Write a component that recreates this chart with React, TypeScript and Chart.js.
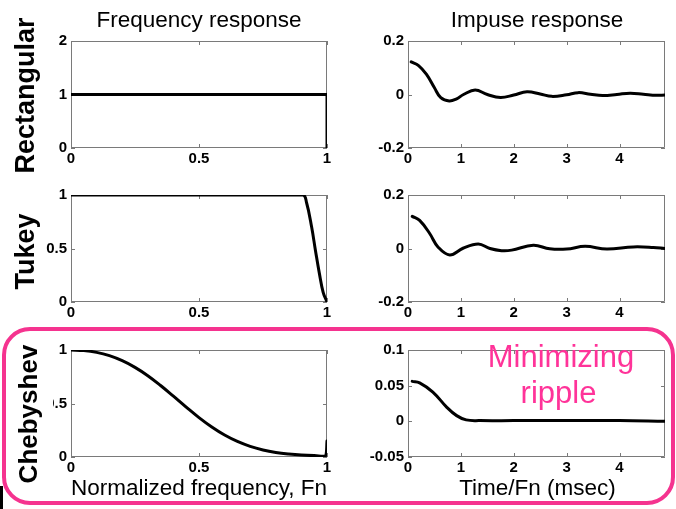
import React, { useEffect, useRef } from "react";
import { Chart, registerables } from "chart.js";

Chart.register(...registerables);

const FONT = '"Liberation Sans", Arial, Helvetica, sans-serif';

// ---- axis ticks ----
const freqTicks = [0, 0.5, 1];
const timeTicks = [0, 1, 2, 3, 4];
const freqMax = 1;
const timeMax = 4.86;

// ---- Rectangular window ----
const rectFreqX = [0, 1, 1];
const rectFreqY = [1, 1, 0];
const rectFreqYTicks = [0, 1, 2];

const rectImpX = [0.06, 0.2, 0.35, 0.5, 0.62, 0.78, 0.92, 1.05, 1.27, 1.5, 1.75, 2.0, 2.25, 2.5, 2.72, 3.0, 3.22, 3.45, 3.68, 3.95, 4.2, 4.45, 4.7, 4.86];
const rectImpY = [0.122, 0.108, 0.075, 0.025, -0.012, -0.024, -0.016, 0.0, 0.017, 0.0, -0.011, -0.002, 0.01, 0.002, -0.007, -0.001, 0.007, 0.001, -0.004, 0.0, 0.005, 0.001, -0.003, -0.002];
const impYTicks = [-0.2, 0, 0.2];

// ---- Tukey window ----
const tukeyFreqX = [0, 0.905, 0.92, 0.94, 0.955, 0.97, 0.985, 1];
const tukeyFreqY = [1, 1, 0.93, 0.7, 0.48, 0.27, 0.09, 0];
const unitYTicks = [0, 0.5, 1];

const tukeyImpX = [0.08, 0.22, 0.41, 0.57, 0.79, 1.04, 1.33, 1.55, 1.77, 1.96, 2.37, 2.68, 3.0, 3.35, 3.76, 4.26, 4.64, 4.86];
const tukeyImpY = [0.12, 0.105, 0.056, 0.005, -0.024, 0.001, 0.017, 0.0, -0.008, -0.006, 0.012, -0.001, -0.002, 0.008, -0.002, 0.006, 0.004, 0.0];

// ---- Chebyshev window ----
const chebFreqX = [0, 0.05, 0.1, 0.15, 0.2, 0.25, 0.3, 0.35, 0.4, 0.45, 0.5, 0.55, 0.6, 0.65, 0.7, 0.75, 0.8, 0.85, 0.9, 0.95, 0.995, 1];
const chebFreqY = [1, 0.995, 0.978, 0.947, 0.9, 0.838, 0.76, 0.668, 0.568, 0.466, 0.368, 0.28, 0.205, 0.145, 0.099, 0.066, 0.043, 0.028, 0.018, 0.013, 0.012, 0.15];

const chebImpX = [0.08, 0.22, 0.47, 0.73, 0.92, 1.1, 1.36, 2.0, 3.0, 4.0, 4.86];
const chebImpY = [0.056, 0.054, 0.041, 0.02, 0.008, 0.002, 0.001, 0.001, 0.001, 0.001, 0.0];
const chebImpYTicks = [-0.05, 0, 0.05, 0.1];

// ---- layout of the six axes boxes ----
const COL_LEFT = [71, 408];
const COL_WIDTH = [256, 257];
const ROW_TOP = [40, 194, 349];
const ROW_HEIGHT = 108;
const Y_AXIS_W = [35, 48];
const PAD_TOP = 12;
const PAD_RIGHT = 10;
const X_AXIS_H = 22;

type Panel = {
  xs: number[];
  ys: number[];
  xMax: number;
  xTicks: number[];
  yMin: number;
  yMax: number;
  yTicks: number[];
  smooth: boolean;
  row: number;
  col: number;
};

const panels: Panel[] = [
  { xs: rectFreqX, ys: rectFreqY, xMax: freqMax, xTicks: freqTicks, yMin: 0, yMax: 2, yTicks: rectFreqYTicks, smooth: false, row: 0, col: 0 },
  { xs: rectImpX, ys: rectImpY, xMax: timeMax, xTicks: timeTicks, yMin: -0.2, yMax: 0.2, yTicks: impYTicks, smooth: true, row: 0, col: 1 },
  { xs: tukeyFreqX, ys: tukeyFreqY, xMax: freqMax, xTicks: freqTicks, yMin: 0, yMax: 1, yTicks: unitYTicks, smooth: true, row: 1, col: 0 },
  { xs: tukeyImpX, ys: tukeyImpY, xMax: timeMax, xTicks: timeTicks, yMin: -0.2, yMax: 0.2, yTicks: impYTicks, smooth: true, row: 1, col: 1 },
  { xs: chebFreqX, ys: chebFreqY, xMax: freqMax, xTicks: freqTicks, yMin: 0, yMax: 1, yTicks: unitYTicks, smooth: true, row: 2, col: 0 },
  { xs: chebImpX, ys: chebImpY, xMax: timeMax, xTicks: timeTicks, yMin: -0.05, yMax: 0.1, yTicks: chebImpYTicks, smooth: true, row: 2, col: 1 },
];

// Gray box around the axes with short inward tick marks on all four sides
const axesBox = {
  id: "axesBox",
  beforeDatasetsDraw(chart: any) {
    const { ctx, chartArea: a, scales } = chart;
    const L = 4;
    ctx.save();
    ctx.strokeStyle = "#7a7a7a";
    ctx.lineWidth = 1;
    ctx.beginPath();
    ctx.rect(a.left + 0.5, a.top + 0.5, a.right - a.left - 1, a.bottom - a.top - 1);
    for (const t of scales.x.ticks) {
      const px = Math.round(scales.x.getPixelForValue(t.value)) + 0.5;
      ctx.moveTo(px, a.bottom);
      ctx.lineTo(px, a.bottom - L);
      ctx.moveTo(px, a.top);
      ctx.lineTo(px, a.top + L);
    }
    for (const t of scales.y.ticks) {
      const py = Math.round(scales.y.getPixelForValue(t.value)) + 0.5;
      ctx.moveTo(a.left, py);
      ctx.lineTo(a.left + L, py);
      ctx.moveTo(a.right, py);
      ctx.lineTo(a.right - L, py);
    }
    ctx.stroke();
    ctx.restore();
  },
};

function PanelChart({ p }: { p: Panel }) {
  const ref = useRef<HTMLCanvasElement | null>(null);
  const yW = Y_AXIS_W[p.col];
  const width = yW + COL_WIDTH[p.col] + PAD_RIGHT;
  const height = PAD_TOP + ROW_HEIGHT + X_AXIS_H;
  const left = COL_LEFT[p.col] - yW;
  const top = ROW_TOP[p.row] - PAD_TOP;

  useEffect(() => {
    if (!ref.current) return;
    const tickFont = { family: FONT, size: 15, weight: "bold" as const };
    const chart = new Chart(ref.current, {
      type: "line",
      data: {
        datasets: [
          {
            data: p.xs.map((x, i) => ({ x, y: p.ys[i] })),
            borderColor: "#000000",
            borderWidth: 3,
            pointRadius: 0,
            fill: false,
            tension: p.smooth ? 0.4 : 0,
            borderJoinStyle: "round",
            borderCapStyle: "round",
          },
        ],
      },
      options: {
        animation: false,
        responsive: false,
        devicePixelRatio: 1,
        layout: { padding: { top: PAD_TOP, right: PAD_RIGHT, left: 0, bottom: 0 } },
        plugins: { legend: { display: false }, tooltip: { enabled: false } },
        scales: {
          x: {
            type: "linear",
            min: 0,
            max: p.xMax,
            grid: { display: false, drawTicks: false },
            border: { display: false },
            afterBuildTicks: (s: any) => {
              s.ticks = p.xTicks.map((v) => ({ value: v }));
            },
            afterFit: (s: any) => {
              s.height = X_AXIS_H;
            },
            ticks: {
              autoSkip: false,
              maxRotation: 0,
              padding: 2,
              color: "#000",
              font: tickFont,
              callback: (v: any) => String(v),
            },
          },
          y: {
            type: "linear",
            min: p.yMin,
            max: p.yMax,
            grid: { display: false, drawTicks: false },
            border: { display: false },
            afterBuildTicks: (s: any) => {
              s.ticks = p.yTicks.map((v) => ({ value: v }));
            },
            afterFit: (s: any) => {
              s.width = yW;
            },
            ticks: {
              autoSkip: false,
              padding: 4,
              color: "#000",
              font: tickFont,
              callback: (v: any) => String(v),
            },
          },
        },
      },
      plugins: [axesBox],
    } as any);
    return () => chart.destroy();
  }, [p]);

  return (
    <canvas
      ref={ref}
      width={width}
      height={height}
      style={{ position: "absolute", left, top, width, height }}
    />
  );
}

function Text({
  text, cx, baseline, size, weight = "normal", color = "#000",
}: { text: string; cx: number; baseline: number; size: number; weight?: string; color?: string }) {
  return (
    <div
      style={{
        position: "absolute",
        left: cx - 200,
        width: 400,
        top: baseline - 0.8465 * size,
        fontFamily: FONT,
        fontSize: size,
        lineHeight: `${size}px`,
        fontWeight: weight as any,
        color,
        textAlign: "center",
        whiteSpace: "nowrap",
      }}
    >
      {text}
    </div>
  );
}

// Vertical row label reading bottom-to-top, placed by its baseline x and centre y
function RowLabel({
  text, baselineX, cy, size, boxW, boxH, bg,
}: { text: string; baselineX: number; cy: number; size: number; boxW: number; boxH: number; bg?: string }) {
  const cx = baselineX - 0.8465 * size + boxH / 2;
  return (
    <div
      style={{
        position: "absolute",
        left: cx - boxW / 2,
        top: cy - boxH / 2,
        width: boxW,
        height: boxH,
        transform: "rotate(-90deg)",
        fontFamily: FONT,
        fontSize: size,
        lineHeight: `${size}px`,
        fontWeight: "bold",
        color: "#000",
        textAlign: "center",
        whiteSpace: "nowrap",
        background: bg || "transparent",
      }}
    >
      {text}
    </div>
  );
}

export default function App() {
  return (
    <div
      style={{
        position: "fixed",
        left: 0,
        top: 0,
        width: 676,
        height: 509,
        background: "#ffffff",
        overflow: "hidden",
      }}
    >
      {panels.map((p, i) => (
        <PanelChart key={i} p={p} />
      ))}

      <Text text="Frequency response" cx={199} baseline={28} size={22.5} />
      <Text text="Impuse response" cx={537} baseline={28} size={22.5} />

      <RowLabel text="Rectangular" baselineX={34} cy={95.5} size={27} boxW={160} boxH={27} />
      <RowLabel text="Tukey" baselineX={34} cy={251.5} size={27} boxW={90} boxH={27} />
      <RowLabel text="Chebyshev" baselineX={37} cy={413.5} size={26} boxW={146} boxH={38} bg="#ffffff" />

      {/* highlight frame around the Chebyshev row */}
      <div
        style={{
          position: "absolute",
          left: 2,
          top: 327,
          width: 673,
          height: 178,
          border: "4px solid #f5338f",
          borderRadius: 28,
          boxSizing: "border-box",
        }}
      />
      <div style={{ position: "absolute", left: 0, top: 486, width: 3, height: 23, background: "#000" }} />

      <Text text="Normalized frequency, Fn" cx={199} baseline={496} size={22.5} />
      <Text text="Time/Fn (msec)" cx={537.5} baseline={496} size={22.5} />

      <Text text="Minimizing" cx={561} baseline={367} size={31} color="#ff3399" />
      <Text text="ripple" cx={558.5} baseline={403} size={31} color="#ff3399" />
    </div>
  );
}
